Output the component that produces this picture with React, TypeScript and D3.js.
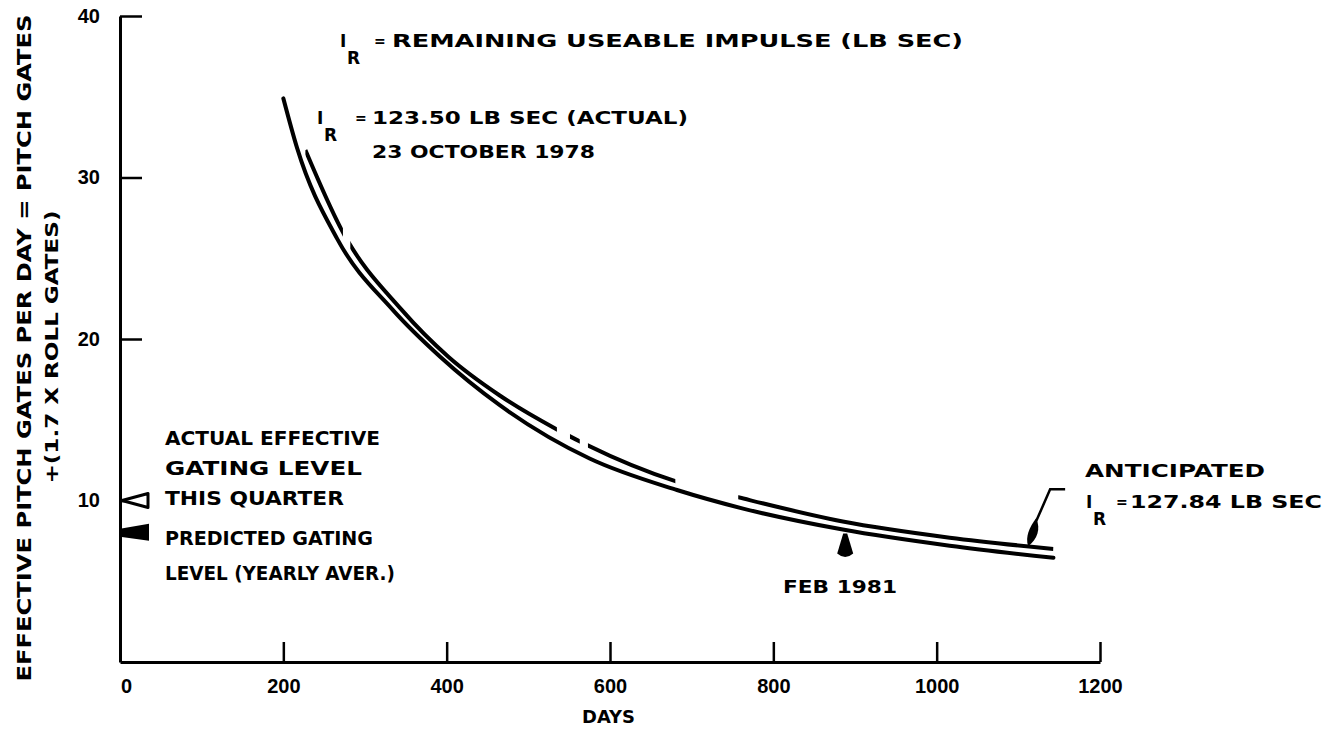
import React, { useEffect, useRef } from "react";
import * as d3 from "d3";

const W = 1331;
const H = 735;
const FONT = "'DejaVu Sans', 'Liberation Sans', Arial, sans-serif";
const TICK_FONT = "'Liberation Sans', Arial, sans-serif";

// gates per day (x = days)
const actualDays = [200, 217, 266, 334, 392, 465, 575, 682, 763, 885, 1016, 1143];
const actualGates = [34.9, 31.8, 26.2, 21.8, 18.9, 15.9, 12.6, 10.65, 9.5, 8.2, 7.2, 6.45];
const anticipatedDays = [227, 273, 345, 402, 465, 535, 680, 757, 885, 1016, 1143];
const anticipatedGates = [31.7, 26.6, 21.8, 18.9, 16.5, 14.4, 11.2, 10.2, 8.7, 7.7, 7.0];
// the anticipated curve is drawn broken, these are the inked stretches (days)
const anticipatedDashes = [[227, 273], [282, 535], [551, 563], [573, 680], [757, 1143]];

const xTicks = [0, 200, 400, 600, 800, 1000, 1200];
const yTicks = [10, 20, 30, 40];

const actualLevel = 10;
const predictedLevel = 8;
const febDay = 888;
const anticipatedArrow = [1112, 7.1];

const x = d3.scaleLinear().domain([0, 1200]).range([120, 1100]);
const y = d3.scaleLinear().domain([0, 40]).range([662, 16]);

const line = d3
  .line<[number, number]>()
  .x(d => x(d[0]))
  .y(d => y(d[1]))
  .curve(d3.curveMonotoneX);

const actualPts = actualDays.map((d, i) => [d, actualGates[i]] as [number, number]);
const anticipatedPts = anticipatedDays.map((d, i) => [d, anticipatedGates[i]] as [number, number]);

const Label = ({ x: tx, y: ty, len, size = 18, children }: any) => (
  <text x={tx} y={ty} fontSize={size} textLength={len} lengthAdjust="spacingAndGlyphs">
    {children}
  </text>
);

// I with subscript R
const IR = ({ x: tx, y: ty }: any) => (
  <g>
    <text x={tx} y={ty} fontSize={17}>I</text>
    <text x={tx + 7} y={ty + 17} fontSize={17}>R</text>
  </g>
);

const App = () => {
  const xRef = useRef<SVGGElement>(null);
  const yRef = useRef<SVGGElement>(null);

  useEffect(() => {
    const gx = d3.select(xRef.current!);
    gx.call(
      d3
        .axisBottom(x)
        .tickValues(xTicks)
        .tickFormat(d3.format("d"))
        .tickSize(-20)
        .tickSizeOuter(0)
        .tickPadding(17)
    );
    const gy = d3.select(yRef.current!);
    gy.call(
      d3
        .axisLeft(y)
        .tickValues(yTicks)
        .tickFormat(d3.format("d"))
        .tickSize(-22)
        .tickSizeOuter(0)
        .tickPadding(20)
    );
    [gx, gy].forEach(g => {
      g.attr("font-family", TICK_FONT).attr("font-size", 20).attr("font-weight", "bold");
      g.select(".domain").attr("stroke", "#000").attr("stroke-width", 3);
      g.selectAll(".tick line").attr("stroke", "#000").attr("stroke-width", 2.5);
      g.selectAll(".tick text").attr("fill", "#000");
    });
    gx.selectAll(".tick").filter((d: any) => d === 0).select("line").remove();
    gx.selectAll(".tick").filter((d: any) => d === 0).select("text").attr("dx", 6);
  }, []);

  const febX = x(febDay);
  const febTop = y(8.2) + 4;
  const [ax, ay] = [x(anticipatedArrow[0]), y(anticipatedArrow[1])];

  return (
    <svg
      width={W}
      height={H}
      style={{ position: "absolute", left: 0, top: 0, background: "#fff" }}
      fontFamily={FONT}
      fontWeight="bold"
    >
      <defs>
        {anticipatedDashes.map(([a, b], i) => (
          <clipPath id={`dash-${i}`} key={i}>
            <rect x={x(a)} y={0} width={x(b) - x(a)} height={H} />
          </clipPath>
        ))}
      </defs>

      <g ref={xRef} transform={`translate(0,${y(0)})`} />
      <g ref={yRef} transform={`translate(${x(0)},0)`} />

      {/* curves */}
      <path d={line(actualPts)!} fill="none" stroke="#000" strokeWidth={4} strokeLinecap="round" />
      {anticipatedDashes.map((_, i) => (
        <path
          key={i}
          d={line(anticipatedPts)!}
          fill="none"
          stroke="#000"
          strokeWidth={4}
          clipPath={`url(#dash-${i})`}
        />
      ))}

      {/* gating level markers on the y axis */}
      <path
        d={`M${x(0) + 2},${y(actualLevel)} L${x(0) + 28},${y(actualLevel) - 7} L${x(0) + 28},${y(actualLevel) + 7} Z`}
        fill="#fff"
        stroke="#000"
        strokeWidth={3}
        strokeLinejoin="round"
      />
      <path
        d={`M${x(0)},${y(predictedLevel) - 4} L${x(0) + 29},${y(predictedLevel) - 9} L${x(0) + 29},${y(predictedLevel) + 8} L${x(0)},${y(predictedLevel) + 4} Z`}
        fill="#000"
      />

      {/* FEB 1981 arrow */}
      <path
        d={`M${febX - 2},${febTop} L${febX + 2},${febTop} L${febX + 8},${febTop + 20} Q${febX},${febTop + 27} ${febX - 8},${febTop + 20} Z`}
        fill="#000"
      />
      <Label x={783} y={593} len={114} size={17}>FEB 1981</Label>

      {/* anticipated leader */}
      <path
        d={`M${ax + 37},${ay - 58} L${ax + 22},${ay - 58} L${ax + 8},${ay - 26}`}
        fill="none"
        stroke="#000"
        strokeWidth={2.5}
      />
      <path
        d={`M${ax + 8},${ay - 29} C${ax + 13},${ay - 18} ${ax + 9},${ay - 8} ${ax},${ay - 1} C${ax - 3},${ay - 10} ${ax + 1},${ay - 20} ${ax + 8},${ay - 29} Z`}
        fill="#000"
      />

      {/* top annotations */}
      <IR x={340} y={47} />
      <text x={374} y={46} fontSize={14}>=</text>
      <Label x={392} y={47} len={571}>REMAINING USEABLE IMPULSE (LB SEC)</Label>
      <IR x={317} y={124} />
      <text x={355} y={123} fontSize={14}>=</text>
      <Label x={372} y={124} len={316}>123.50 LB SEC (ACTUAL)</Label>
      <Label x={372} y={158} len={223}>23 OCTOBER 1978</Label>

      {/* left annotations */}
      <Label x={165} y={445} len={215} size={20}>ACTUAL EFFECTIVE</Label>
      <Label x={165} y={475} len={197} size={20}>GATING LEVEL</Label>
      <Label x={165} y={505} len={179} size={20}>THIS QUARTER</Label>
      <Label x={165} y={545} len={208} size={20}>PREDICTED GATING</Label>
      <Label x={165} y={580} len={230} size={20}>LEVEL (YEARLY AVER.)</Label>

      {/* right annotation */}
      <Label x={1085} y={477} len={180}>ANTICIPATED</Label>
      <IR x={1086} y={508} />
      <text x={1116} y={507} fontSize={14}>=</text>
      <Label x={1130} y={508} len={192}>127.84 LB SEC</Label>

      {/* axis titles */}
      <Label x={582} y={723} len={53} size={17}>DAYS</Label>
      <text
        transform="translate(31,348) rotate(-90)"
        textAnchor="middle"
        fontSize={19}
        textLength={667}
        lengthAdjust="spacingAndGlyphs"
      >
        EFFECTIVE PITCH GATES PER DAY = PITCH GATES
      </text>
      <text
        transform="translate(58,347) rotate(-90)"
        textAnchor="middle"
        fontSize={18}
        textLength={273}
        lengthAdjust="spacingAndGlyphs"
      >
        +(1.7 X ROLL GATES)
      </text>
    </svg>
  );
};

export default App;
